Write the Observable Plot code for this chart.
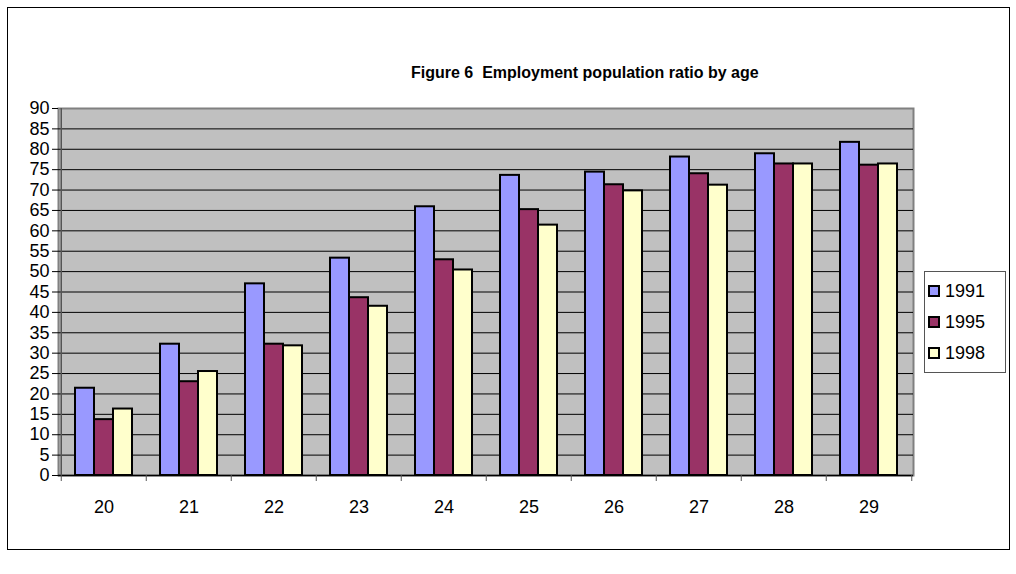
<!DOCTYPE html>
<html>
<head>
<meta charset="utf-8">
<script src="https://cdn.jsdelivr.net/npm/d3@7"></script>
<script src="https://cdn.jsdelivr.net/npm/@observablehq/plot@0.6"></script>
<style>
  body { margin: 0; background: #fff; font-family: "Liberation Sans", Arial, sans-serif; }
  #chart { position: relative; width: 1016px; height: 574px; overflow: hidden; }
  #border { position: absolute; left: 7px; top: 7px; width: 1003px; height: 543px; border: 1px solid #000; box-sizing: border-box; }
  #title { position: absolute; left: 411px; top: 64px; white-space: pre; font-weight: bold; font-size: 16px; line-height: 18px; color: #000; }
  #plot { position: absolute; left: 0; top: 0; }
  #legend { position: absolute; left: 924px; top: 271px; width: 82px; height: 102px; border: 1px solid #555; box-sizing: border-box; background: #fff; }
  .item { position: absolute; left: 3px; height: 20px; display: flex; align-items: center; font-size: 18px; color: #000; }
  .swatch { width: 8px; height: 8px; border: 2px solid #000; margin-right: 5px; }
</style>
</head>
<body>
<div id="chart">
  <div id="border"></div>
  <div id="title"></div>
  <div id="plot"></div>
  <div id="legend"></div>
</div>
<script>
// Employment population ratio (%) by single year of age
const title = "Figure 6  Employment population ratio by age";
const ages = ["20", "21", "22", "23", "24", "25", "26", "27", "28", "29"];
const years = ["1991", "1995", "1998"];
const v1991 = [21.4, 32.2, 47.0, 53.3, 65.9, 73.6, 74.4, 78.1, 78.9, 81.7];
const v1995 = [13.7, 23.0, 32.2, 43.6, 52.9, 65.2, 71.3, 74.0, 76.4, 76.1];
const v1998 = [16.3, 25.5, 31.8, 41.5, 50.4, 61.4, 69.8, 71.2, 76.4, 76.4];
const colors = ["#9999FF", "#993366", "#FFFFCC"];
const yTicks = [0, 5, 10, 15, 20, 25, 30, 35, 40, 45, 50, 55, 60, 65, 70, 75, 80, 85, 90];

const series = [v1991, v1995, v1998];
const rows = ages.flatMap((age, i) => years.map((year, j) => ({age, year, value: series[j][i]})));

const W = 1016, H = 574;
const mL = 58, mR = 103, mT = 108, mB = 99;
const step = (W - mL - mR) / ages.length;
const band = step * 2 / 3;        // three bars per age group, 150% gap
const barW = band / 3;

document.getElementById("title").textContent = title;

const bars = years.map((year, j) => Plot.barY(rows.filter(d => d.year === year), {
  x: "age", y: "value", fill: colors[j], stroke: "#000", strokeWidth: 2,
  insetLeft: j * barW, insetRight: (2 - j) * barW
}));

const chart = Plot.plot({
  width: W, height: H,
  marginLeft: mL, marginRight: mR, marginTop: mT, marginBottom: mB,
  style: {fontFamily: "'Liberation Sans', Arial, sans-serif", fontSize: "18px", background: "transparent", color: "#000"},
  x: {type: "band", domain: ages, paddingInner: 1/3, paddingOuter: 1/6, label: null},
  y: {domain: [0, 90], label: null},
  marks: [
    Plot.frame({fill: "#C0C0C0", stroke: "#808080", strokeWidth: 2}),
    Plot.ruleY(yTicks.filter(t => t > 0 && t < 90), {stroke: "#000", strokeWidth: 1}),
    ...bars,
    Plot.ruleY([0], {stroke: "#000", strokeWidth: 1.5}),
    Plot.ruleX([0], {x: () => ages[0], dx: -step / 2, stroke: "#555", strokeWidth: 1.5}),
    Plot.axisY({ticks: yTicks, tickSize: 6, tickPadding: 3, fontSize: 18, label: null}),
    Plot.axisX({tickSize: 0, tickPadding: 25, fontSize: 18, label: null}),
    // small ticks marking the category boundaries on the baseline
    Plot.ruleX(ages, {x: d => d, y1: 0, y2: 0, dx: -step / 2, insetBottom: -6, stroke: "#555"}),
    Plot.ruleX([ages[ages.length - 1]], {x: d => d, y1: 0, y2: 0, dx: step / 2, insetBottom: -6, stroke: "#555"})
  ]
});
document.getElementById("plot").appendChild(chart);

// legend
const legend = document.getElementById("legend");
years.forEach((year, j) => {
  const item = document.createElement("div");
  item.className = "item";
  item.style.top = (9 + j * 31) + "px";
  const sw = document.createElement("span");
  sw.className = "swatch";
  sw.style.background = colors[j];
  const label = document.createElement("span");
  label.textContent = year;
  item.appendChild(sw);
  item.appendChild(label);
  legend.appendChild(item);
});
</script>
</body>
</html>
